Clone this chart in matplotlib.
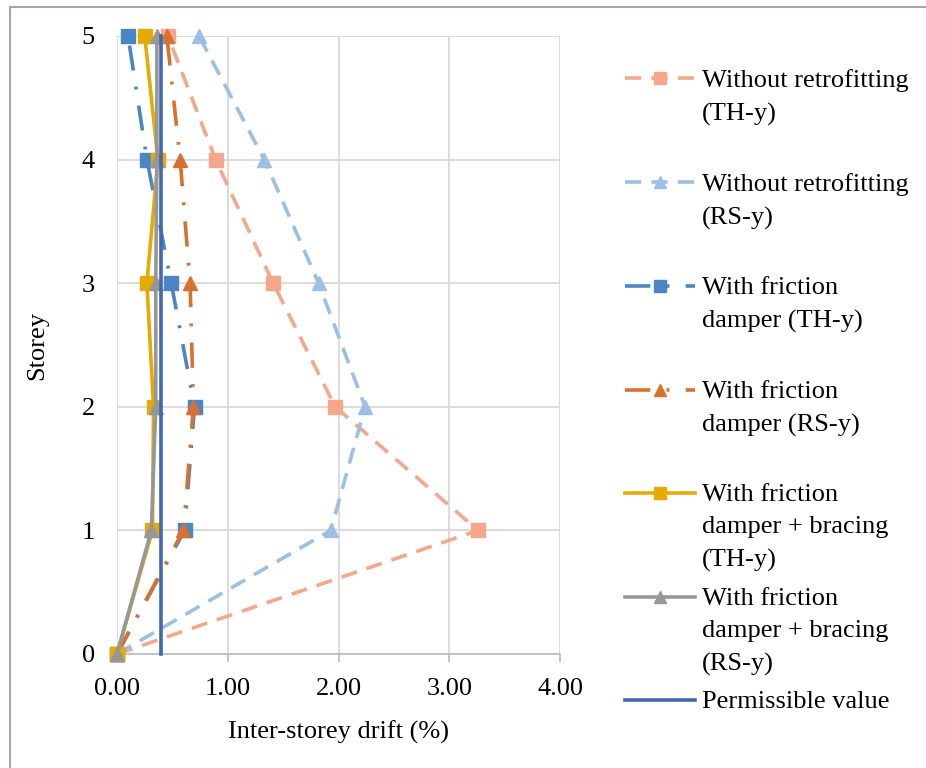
import matplotlib
matplotlib.use("Agg")
import matplotlib.pyplot as plt
from matplotlib.lines import Line2D
from matplotlib.patches import Rectangle

plt.rcParams['font.family'] = ['Liberation Serif', 'DejaVu Serif']

storey = [0, 1, 2, 3, 4, 5]

# inter-storey drift (%) per storey
drift_none_th = [0.00, 3.26, 1.97, 1.41, 0.89, 0.46]
drift_none_rs = [0.00, 1.93, 2.24, 1.82, 1.33, 0.74]
drift_fd_th = [0.00, 0.61, 0.70, 0.49, 0.27, 0.10]
drift_fd_rs = [0.00, 0.60, 0.69, 0.66, 0.57, 0.45]
drift_fdb_th = [0.00, 0.32, 0.33, 0.27, 0.37, 0.25]
drift_fdb_rs = [0.00, 0.31, 0.35, 0.35, 0.36, 0.36]
permissible = 0.4

labels = [
    "Without retrofitting\n(TH-y)",
    "Without retrofitting\n(RS-y)",
    "With friction\ndamper (TH-y)",
    "With friction\ndamper (RS-y)",
    "With friction\ndamper + bracing\n(TH-y)",
    "With friction\ndamper + bracing\n(RS-y)",
    "Permissible value",
]

dashed = (0, (4.5, 2.8))
dashdot = (0, (7, 4.5, 0.8, 4.5))
styles = [
    dict(color='#F4A78B', ls=dashed, marker='s'),
    dict(color='#9CBFE3', ls=dashed, marker='^'),
    dict(color='#4A86C2', ls=dashdot, marker='s'),
    dict(color='#D8712F', ls=dashdot, marker='^'),
    dict(color='#E5AB02', ls='-', marker='s'),
    dict(color='#979797', ls='-', marker='^'),
    dict(color='#4168B0', ls='-', marker=None),
]
series = [drift_none_th, drift_none_rs, drift_fd_th, drift_fd_rs,
          drift_fdb_th, drift_fdb_rs, [permissible] * len(storey)]

W, H = 926, 768
fig = plt.figure(figsize=(W / 100, H / 100), dpi=100)
ax = fig.add_axes([117 / W, 1 - 654 / H, (560 - 117) / W, (654 - 36) / H])

for vals, st in zip(series, styles):
    ax.plot(vals, storey, color=st['color'], linestyle=st['ls'], lw=2.6,
            marker=st['marker'], markersize=10, clip_on=False, zorder=3)

ax.set_xlim(0, 4)
ax.set_ylim(0, 5)
ax.set_xticks([0, 1, 2, 3, 4])
ax.set_xticklabels(['0.00', '1.00', '2.00', '3.00', '4.00'])
ax.set_yticks(storey)
ax.grid(True, color='#D9D9D9', lw=1.3)
ax.set_axisbelow(True)
for side in ['top', 'right', 'left']:
    ax.spines[side].set_visible(False)
ax.spines['bottom'].set_color('#BFBFBF')
ax.spines['bottom'].set_linewidth(1.3)
ax.tick_params(axis='x', direction='out', length=6, width=1.3,
               color='#BFBFBF', labelsize=19, pad=11)
ax.tick_params(axis='y', length=0, labelsize=19, pad=16)
ax.set_xlabel('Inter-storey drift (%)', fontsize=19, labelpad=15)
ax.set_ylabel('Storey', fontsize=19, labelpad=24)

# legend drawn by hand so the line sample sits on the first text row
row_y = [78, 182, 286, 390, 493, 597, 700]
x0, x1, xt = 625, 695, 702
for lab, st, y in zip(labels, styles, row_y):
    fy = 1 - y / H
    fig.add_artist(Line2D([x0 / W, (x0 + x1) / 2 / W, x1 / W], [fy, fy, fy],
                          transform=fig.transFigure, color=st['color'],
                          linestyle=st['ls'], lw=2.6, marker=st['marker'],
                          markersize=8, markevery=[1]))
    fig.text(xt / W, 1 - (y - 9) / H, lab, fontsize=19, va='top', ha='left',
             linespacing=1.6)

fig.add_artist(Rectangle((10 / W, -0.05), 1.2, 1 - 7 / H + 0.05,
                         transform=fig.transFigure, fill=False,
                         edgecolor='#A6A6A6', lw=1.5))

fig.savefig('out.png', dpi=100)
